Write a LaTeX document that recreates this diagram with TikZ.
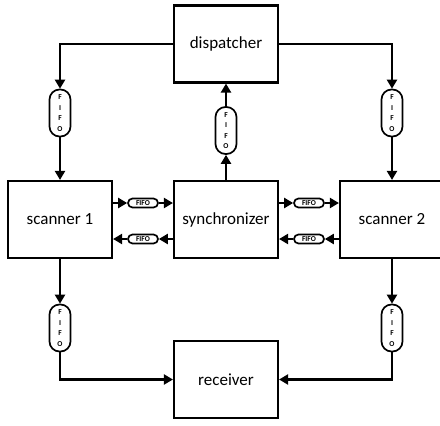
\documentclass[tikz,border=0pt]{standalone}
\usepackage{fontspec}
\setmainfont{Carlito}
\usetikzlibrary{arrows.meta}

\begin{document}
\begin{tikzpicture}[x=1pt, y=-1pt,
    unit/.style={draw, line width=2.1pt, minimum width=104pt, minimum height=77pt,
                 inner sep=0pt, font=\fontsize{17}{20}\selectfont},
    queue/.style={draw, line width=1.7pt, fill=white, rounded corners=#1, inner sep=0pt,
                  align=center, font=\bfseries\fontsize{7.5}{10.4}\selectfont},
    hqueue/.style={queue=4.5pt, minimum width=30pt, minimum height=9pt},
    vqueue/.style={queue=10pt, minimum width=21pt, minimum height=47pt},
    flow/.style={line width=2.1pt, -{Triangle[length=9pt, width=10pt]}}]

    \useasboundingbox (0,0) rectangle (440,426);
    \clip (0,0) rectangle (440,426);

    % processing units
    \node[unit] (disp)  at (226,44)    {dispatcher};
    \node[unit] (scan1) at (60,219.5)  {scanner 1};
    \node[unit] (sync)  at (226,219.5) {synchronizer};
    \node[unit] (scan2) at (392,219.5) {scanner 2};
    \node[unit] (recv)  at (226,379.5) {receiver};

    % vertical queues
    \node[vqueue] (qd1) at (60,113)    {F\\I\\F\\O};
    \node[vqueue] (qd2) at (392,113)   {F\\I\\F\\O};
    \node[vqueue] (qsd) at (226,130.5) {F\\I\\F\\O};
    \node[vqueue] (qr1) at (60,328)    {F\\I\\F\\O};
    \node[vqueue] (qr2) at (392,328)   {F\\I\\F\\O};

    % horizontal queues between scanners and synchronizer
    \node[hqueue] (h1) at (143,203) {FIFO};
    \node[hqueue] (h2) at (143,239) {FIFO};
    \node[hqueue] (h3) at (309,203) {FIFO};
    \node[hqueue] (h4) at (309,239) {FIFO};

    \draw[flow] (disp.west) -| (qd1.north);
    \draw[flow] (qd1.south) -- (scan1.north);
    \draw[flow] (disp.east) -| (qd2.north);
    \draw[flow] (qd2.south) -- (scan2.north);

    \draw[flow] (sync.north) -- (qsd.south);
    \draw[flow] (qsd.north) -- (disp.south);

    \draw[flow] (scan1.south) -- (qr1.north);
    \draw[flow] (qr1.south) |- (recv.west);
    \draw[flow] (scan2.south) -- (qr2.north);
    \draw[flow] (qr2.south) |- (recv.east);

    \foreach \q/\src/\dst/\s/\d in {h1/scan1/sync/east/west, h2/sync/scan1/west/east,
                                    h3/sync/scan2/east/west, h4/scan2/sync/west/east} {
        \draw[flow] (\q -| \src.\s) -- (\q.\d);
        \draw[flow] (\q.\s) -- (\q -| \dst.\d);
    }
\end{tikzpicture}
\end{document}
